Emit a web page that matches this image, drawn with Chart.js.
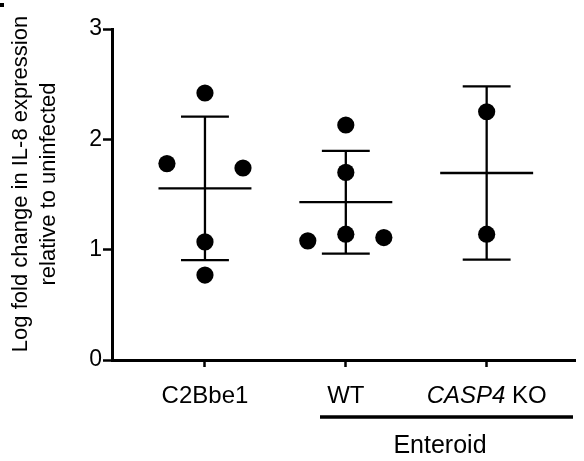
<!DOCTYPE html>
<html>
<head>
<meta charset="utf-8">
<script src="https://cdn.jsdelivr.net/npm/chart.js@4/dist/chart.umd.min.js"></script>
<style>
  html, body { margin: 0; padding: 0; background: #fff; }
  #wrap { width: 584px; height: 461px; position: relative; }
</style>
</head>
<body>
<div id="wrap"><canvas id="chart"></canvas></div>
<script>
const groups = ["C2Bbe1", "WT", "CASP4 KO"];
const groupX = [1, 2, 3];

// individual replicates, with a small sideways nudge so dots don't overlap
const c2bbe1Values = [2.42, 1.78, 1.74, 1.07, 0.77];
const c2bbe1Offsets = [0, -0.27, 0.27, 0, 0];
const wtValues = [2.13, 1.70, 1.14, 1.08, 1.11];
const wtOffsets = [0, 0, 0, -0.27, 0.27];
const koValues = [2.25, 1.14];
const koOffsets = [0, 0];

// mean +/- SD per group
const means = [1.556, 1.43, 1.695];
const sds = [0.65, 0.465, 0.785];

const yTicks = [0, 1, 2, 3];

const FONT = "'Liberation Sans', Arial, sans-serif";
const MEAN_HALF = 0.33;
const CAP_HALF = 0.17;

function toPoints(values, offsets, x) {
  return values.map((v, i) => ({ x: x + offsets[i], y: v }));
}

const dots = [
  ...toPoints(c2bbe1Values, c2bbe1Offsets, groupX[0]),
  ...toPoints(wtValues, wtOffsets, groupX[1]),
  ...toPoints(koValues, koOffsets, groupX[2]),
];

// segments are separated with a null so the line breaks between them
const meanSegs = [];
const errSegs = [];
groupX.forEach((x, i) => {
  const m = means[i];
  const hi = m + sds[i];
  const lo = m - sds[i];
  meanSegs.push({ x: x - MEAN_HALF, y: m }, { x: x + MEAN_HALF, y: m }, { x: x, y: null });
  errSegs.push({ x: x, y: lo }, { x: x, y: hi }, { x: x, y: null });
  errSegs.push({ x: x - CAP_HALF, y: hi }, { x: x + CAP_HALF, y: hi }, { x: x, y: null });
  errSegs.push({ x: x - CAP_HALF, y: lo }, { x: x + CAP_HALF, y: lo }, { x: x, y: null });
});

const labelsPlugin = {
  id: "groupLabels",
  afterDraw(chart) {
    const ctx = chart.ctx;
    const xs = chart.scales.x;
    const baseline = 403;
    ctx.save();
    ctx.fillStyle = "#000";
    ctx.textBaseline = "alphabetic";

    // category names under the ticks
    ctx.font = "24px " + FONT;
    ctx.textAlign = "center";
    ctx.fillText(groups[0], xs.getPixelForValue(groupX[0]), baseline);
    ctx.fillText(groups[1], xs.getPixelForValue(groupX[1]), baseline);

    // gene name in italics
    const italic = "italic 24px " + FONT;
    const normal = "24px " + FONT;
    ctx.font = italic;
    const w1 = ctx.measureText("CASP4").width;
    ctx.font = normal;
    const w2 = ctx.measureText(" KO").width;
    const start = xs.getPixelForValue(groupX[2]) - (w1 + w2) / 2;
    ctx.textAlign = "left";
    ctx.font = italic;
    ctx.fillText("CASP4", start, baseline);
    ctx.font = normal;
    ctx.fillText(" KO", start + w1, baseline);

    // bracket for the enteroid lines
    ctx.strokeStyle = "#000";
    ctx.lineWidth = 3.5;
    ctx.beginPath();
    ctx.moveTo(320, 417);
    ctx.lineTo(573, 417);
    ctx.stroke();
    ctx.font = "25px " + FONT;
    ctx.textAlign = "center";
    ctx.fillText("Enteroid", 440, 453);

    // y axis title
    ctx.font = "22px " + FONT;
    ctx.translate(0, 184);
    ctx.rotate(-Math.PI / 2);
    ctx.fillText("Log fold change in IL-8 expression", 0, 27);
    ctx.fillText("relative to uninfected", 0, 55);
    ctx.restore();

    ctx.fillStyle = "#000";
    ctx.fillRect(0, 3, 4, 4);
  },
};

new Chart(document.getElementById("chart"), {
  type: "scatter",
  data: {
    datasets: [
      {
        label: "mean",
        type: "line",
        data: meanSegs,
        borderColor: "#000",
        borderWidth: 2.3,
        pointRadius: 0,
        spanGaps: false,
      },
      {
        label: "sd",
        type: "line",
        data: errSegs,
        borderColor: "#000",
        borderWidth: 2.3,
        pointRadius: 0,
        spanGaps: false,
      },
      {
        label: "replicates",
        data: dots,
        backgroundColor: "#000",
        borderWidth: 0,
        pointRadius: 8.6,
      },
    ],
  },
  options: {
    responsive: true,
    maintainAspectRatio: false,
    animation: false,
    layout: { padding: { top: 29, right: 0, bottom: 0, left: 0 } },
    plugins: { legend: { display: false }, tooltip: { enabled: false } },
    scales: {
      x: {
        type: "linear",
        min: 0.34,
        max: 3.63,
        afterBuildTicks: (scale) => {
          scale.ticks = groupX.map((v) => ({ value: v }));
        },
        afterFit: (scale) => {
          scale.height = 101;
        },
        ticks: { display: false },
        grid: {
          drawOnChartArea: false,
          drawTicks: true,
          tickLength: 7,
          tickWidth: 2.5,
          tickColor: "#000",
        },
        border: { color: "#000", width: 3 },
      },
      y: {
        min: 0,
        max: 3,
        afterBuildTicks: (scale) => {
          scale.ticks = yTicks.map((v) => ({ value: v }));
        },
        afterFit: (scale) => {
          scale.width = 112;
        },
        ticks: {
          color: "#000",
          padding: 1,
          font: { family: FONT, size: 23 },
        },
        grid: {
          drawOnChartArea: false,
          drawTicks: true,
          tickLength: 9,
          tickWidth: 2.5,
          tickColor: "#000",
        },
        border: { color: "#000", width: 3 },
      },
    },
  },
  plugins: [labelsPlugin],
});
</script>
</body>
</html>
